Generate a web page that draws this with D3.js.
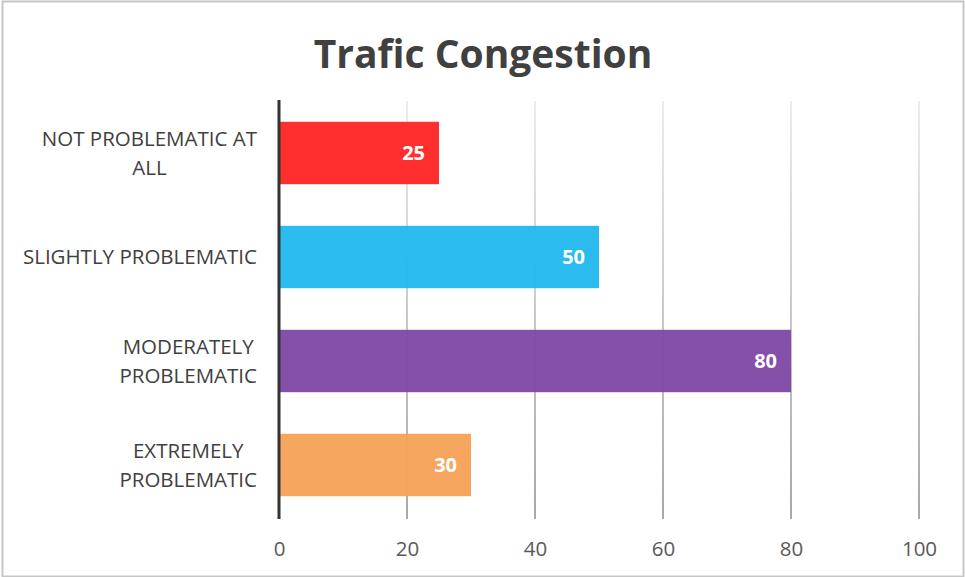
<!DOCTYPE html>
<html>
<head>
<meta charset="utf-8">
<script src="https://cdn.jsdelivr.net/npm/d3@7"></script>
<style>
  html, body { margin: 0; padding: 0; background: #fff; }
  svg { display: block; }
</style>
</head>
<body>
<div id="chart"></div>
<script>
// data
const title = "Trafic Congestion";
const categories = [
  "NOT PROBLEMATIC AT\nALL",
  "SLIGHTLY PROBLEMATIC",
  "MODERATELY\nPROBLEMATIC",
  "EXTREMELY\nPROBLEMATIC"
];
const values = [25, 50, 80, 30];
const barColors = ["#ff2626", "#22b8ee", "#8049a6", "#f7a25a"];
const xTicks = [0, 20, 40, 60, 80, 100];

const width = 965, height = 577;
const margin = { top: 101, right: 46, bottom: 60, left: 279 };

const svg = d3.select("#chart")
  .append("svg")
  .attr("width", width)
  .attr("height", height);

// outer border
svg.append("rect")
  .attr("x", 2.5).attr("y", 1.5)
  .attr("width", width - 4).attr("height", height - 2)
  .attr("fill", "#fff")
  .attr("stroke", "#c6c6c6")
  .attr("stroke-width", 2);

const x = d3.scaleLinear()
  .domain([0, 100])
  .range([margin.left, width - margin.right]);

const y = d3.scaleBand()
  .domain(categories)
  .range([margin.top, height - margin.bottom])
  .paddingInner(0.4)
  .paddingOuter(0.2);

// gridline gradient
const defs = svg.append("defs");
const grad = defs.append("linearGradient")
  .attr("id", "gridGrad")
  .attr("gradientUnits", "userSpaceOnUse")
  .attr("x1", 0).attr("x2", 0)
  .attr("y1", margin.top).attr("y2", height - margin.bottom);
grad.append("stop").attr("offset", "0%").attr("stop-color", "#ececec");
grad.append("stop").attr("offset", "100%").attr("stop-color", "#a8a8a8");

// TITLE
svg.append("text")
  .attr("x", 483)
  .attr("y", 68)
  .attr("text-anchor", "middle")
  .attr("font-family", "'Open Sans', sans-serif")
  .attr("font-weight", "bold")
  .attr("font-size", 39)
  .attr("fill", "#404040")
  .text(title);

// GRID
svg.append("g")
  .selectAll("line")
  .data(xTicks.filter(d => d > 0))
  .enter()
  .append("line")
  .attr("x1", d => x(d)).attr("x2", d => x(d))
  .attr("y1", margin.top).attr("y2", height - margin.bottom + 2)
  .attr("stroke", "url(#gridGrad)")
  .attr("stroke-width", 2);

// BARS
svg.append("g")
  .selectAll("rect")
  .data(values)
  .enter()
  .append("rect")
  .attr("x", x(0))
  .attr("y", (d, i) => y(categories[i]))
  .attr("width", d => x(d) - x(0))
  .attr("height", y.bandwidth())
  .attr("fill", (d, i) => barColors[i])
  .attr("fill-opacity", 0.96);

// VALUE LABELS
svg.append("g")
  .selectAll("text")
  .data(values)
  .enter()
  .append("text")
  .attr("x", d => x(d) - 14)
  .attr("y", (d, i) => y(categories[i]) + y.bandwidth() / 2)
  .attr("dy", "0.36em")
  .attr("text-anchor", "end")
  .attr("font-family", "'Open Sans', sans-serif")
  .attr("font-weight", "bold")
  .attr("font-size", 20)
  .attr("fill", "#fff")
  .text(d => d);

// Y AXIS LINE
svg.append("line")
  .attr("x1", x(0)).attr("x2", x(0))
  .attr("y1", margin.top - 1).attr("y2", height - margin.bottom + 2)
  .attr("stroke", "#333")
  .attr("stroke-width", 3);

// CATEGORY LABELS
const labelRight = 257;
const lineH = 29;
categories.forEach((c, i) => {
  const lines = c.split("\n");
  const t = svg.append("text")
    .attr("font-family", "'Open Sans', sans-serif")
    .attr("font-size", 20.5)
    .attr("fill", "#404040")
    .attr("text-anchor", "middle");
  const cy = y(c) + y.bandwidth() / 2;
  lines.forEach((l, j) => {
    t.append("tspan")
      .attr("y", cy + (j - (lines.length - 1) / 2) * lineH)
      .attr("dy", "0.36em")
      .text(l);
  });
  // center lines within block right-aligned at labelRight
  let maxW = 0;
  t.selectAll("tspan").each(function () {
    maxW = Math.max(maxW, this.getComputedTextLength());
  });
  t.selectAll("tspan").attr("x", labelRight - maxW / 2);
});

// X AXIS TICK LABELS
const xAxis = d3.axisBottom(x).tickValues(xTicks).tickSize(0).tickPadding(0);
const gx = svg.append("g")
  .attr("transform", `translate(0, ${549})`)
  .call(xAxis);
gx.select(".domain").remove();
gx.selectAll("text")
  .attr("dy", "0.36em")
  .attr("font-family", "'Open Sans', sans-serif")
  .attr("font-size", 20.5)
  .attr("fill", "#595959");
</script>
</body>
</html>
